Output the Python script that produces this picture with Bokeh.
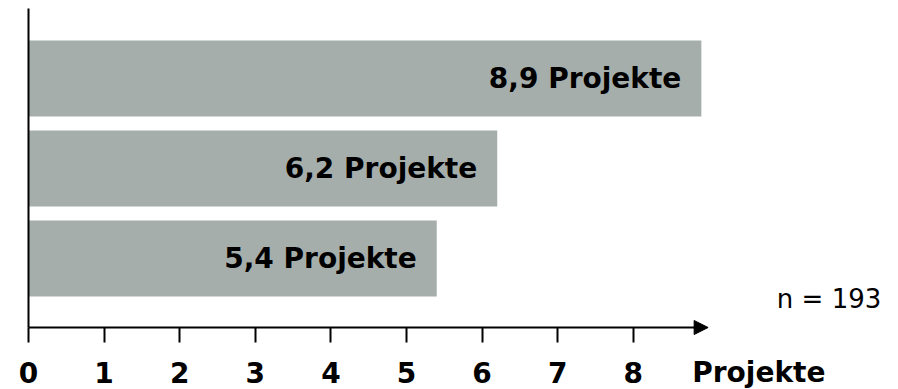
from bokeh.plotting import figure
from bokeh.models import Range1d, LinearAxis, FixedTicker, Arrow, NormalHead, Label
from bokeh.core.properties import value
from bokeh.embed import file_html
from bokeh.resources import INLINE

# Data
rows = [0, 1, 2]
project_counts = [8.9, 6.2, 5.4]
bar_labels = ["8,9 Projekte", "6,2 Projekte", "5,4 Projekte"]
tick_values = [0, 1, 2, 3, 4, 5, 6, 7, 8]
axis_title = "Projekte"
sample_note = "n = 193"

FONT = "DejaVu Sans"
BAR_COLOR = "#a6aeab"

W, H = 898, 389
# Scales: x = 0 lies 28 px from the left, one project = 75.6 px
PX_PER_UNIT = 75.6
X0_PX = 28
x_start = -X0_PX / PX_PER_UNIT
x_end = (W - X0_PX) / PX_PER_UNIT
# rows are 90 px apart, first centre 78 px below the top
ROW_PX, ROW0_PX = 90, 78
def row_at(px):
    return (px - ROW0_PX) / ROW_PX

y_top = row_at(0)
y_bottom = row_at(H)
x_axis_row = row_at(327)

p = figure(width=W, height=H, output_backend="svg", toolbar_location=None,
           x_range=Range1d(x_start, x_end), y_range=Range1d(y_bottom, y_top),
           x_axis_type=None, y_axis_type=None,
           min_border=0)
p.outline_line_color = None
p.background_fill_color = "white"
p.border_fill_color = "white"

p.hbar(y=rows, left=0, right=project_counts, height=76 / ROW_PX,
       fill_color=BAR_COLOR, line_color=None)

p.text(x=project_counts, y=rows, text=bar_labels, x_offset=-20,
       text_align="right", text_baseline="middle",
       text_font=value(FONT), text_font_style="bold",
       text_font_size="28px", text_color="black")

# Vertical axis: a plain line at x = 0
yaxis = LinearAxis(ticker=FixedTicker(ticks=[]), major_label_text_font_size="0px",
                   major_tick_out=0, major_tick_in=0, minor_tick_out=0, minor_tick_in=0,
                   axis_line_width=2, axis_line_color="black",
                   fixed_location=0,
                   bounds=(row_at(8), x_axis_row))
p.add_layout(yaxis, "left")

# Horizontal axis with bold tick labels
xaxis = LinearAxis(ticker=FixedTicker(ticks=tick_values),
                   major_tick_out=15, major_tick_in=0,
                   minor_tick_out=0, minor_tick_in=0,
                   major_tick_line_width=2, major_tick_line_color="black",
                   axis_line_width=2, axis_line_color="black",
                   major_label_standoff=19,
                   major_label_text_font=FONT,
                   major_label_text_font_style="bold",
                   major_label_text_font_size="28px",
                   major_label_text_color="black",
                   fixed_location=x_axis_row,
                   bounds=(0, 8.9))
p.add_layout(xaxis, "below")

# Arrow tip at the end of the x axis
p.add_layout(Arrow(end=NormalHead(size=14, fill_color="black", line_color="black"),
                   x_start=8.8, x_end=8.99, y_start=x_axis_row, y_end=x_axis_row,
                   line_width=2, line_color="black"))

p.add_layout(Label(x=8.78, y=row_at(372), text=axis_title,
                   text_align="left", text_baseline="alphabetic",
                   text_font=FONT, text_font_style="bold",
                   text_font_size="28px", text_color="black"))

p.add_layout(Label(x=11.28, y=row_at(298), text=sample_note,
                   text_align="right", text_baseline="alphabetic",
                   text_font=FONT, text_font_size="26px", text_color="black"))

open("out.html", "w").write(file_html(p, INLINE))
